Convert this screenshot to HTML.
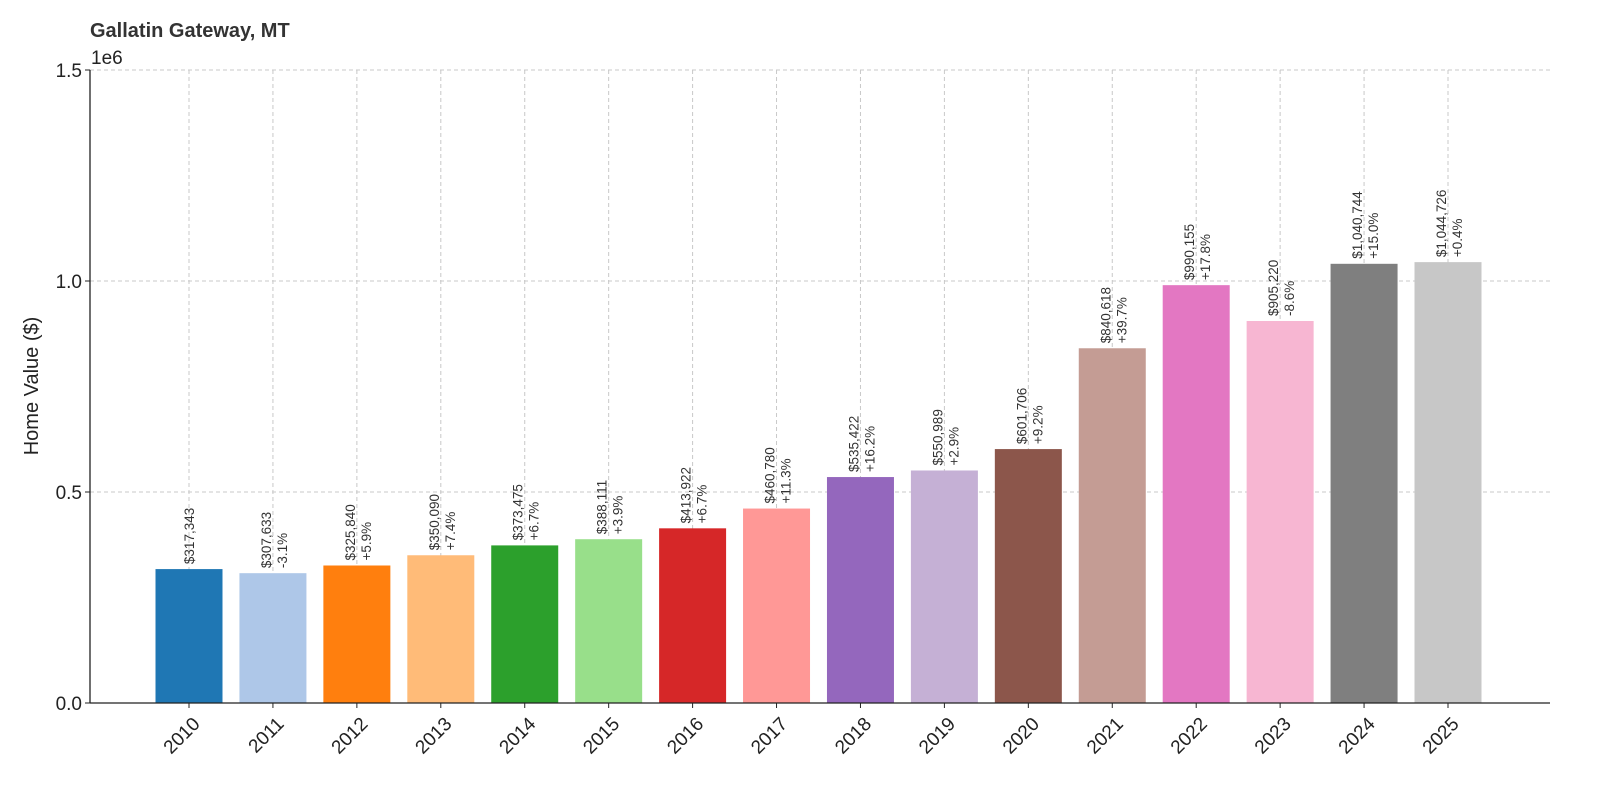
<!DOCTYPE html>
<html><head><meta charset="utf-8"><style>
body{margin:0;background:#fff;}
svg{display:block;font-family:"Liberation Sans","DejaVu Sans",sans-serif;}
</style></head><body>
<svg id="chart" width="1600" height="800" viewBox="0 0 1600 800" xmlns="http://www.w3.org/2000/svg">
<text x="90" y="37" font-size="20" font-weight="bold" fill="#333">Gallatin Gateway, MT</text>
<text x="91" y="64" font-size="19" fill="#222">1e6</text>
<text transform="translate(38,386) rotate(-90)" text-anchor="middle" font-size="20" fill="#222">Home Value ($)</text>
<g id="grid"></g><g id="bars"></g><g id="labels"></g><g id="axes"></g>
</svg>
<script>
const years=["2010","2011","2012","2013","2014","2015","2016","2017","2018","2019","2020","2021","2022","2023","2024","2025"];
const values=[317343,307633,325840,350090,373475,388111,413922,460780,535422,550989,601706,840618,990155,905220,1040744,1044726];
const pctLabels=["","-3.1%","+5.9%","+7.4%","+6.7%","+3.9%","+6.7%","+11.3%","+16.2%","+2.9%","+9.2%","+39.7%","+17.8%","-8.6%","+15.0%","+0.4%"];
const yTicks=[0,0.5,1.0,1.5];
const yTickLabels=["0.0","0.5","1.0","1.5"];
const colors=["#1f77b4","#aec7e8","#ff7f0e","#ffbb78","#2ca02c","#98df8a","#d62728","#ff9896","#9467bd","#c5b0d5","#8c564b","#c49c94","#e377c2","#f7b6d2","#7f7f7f","#c7c7c7"];
const NS="http://www.w3.org/2000/svg";
const L=90,R=1550,T=70,B=703,yMax=1.5e6;
const xs=i=>189+i*(1448-189)/15;
const ys=v=>B-v/yMax*(B-T);
const bw=67;
function mk(tag,attrs,parent,text){const e=document.createElementNS(NS,tag);for(const k in attrs)e.setAttribute(k,attrs[k]);if(text!==undefined)e.textContent=text;parent.appendChild(e);return e;}
const grid=document.getElementById('grid'),bars=document.getElementById('bars'),labels=document.getElementById('labels'),axes=document.getElementById('axes');
yTicks.forEach((t,i)=>{
  const y=ys(t*1e6);
  const g=mk('line',{x1:L,x2:R,y1:y,y2:y,stroke:'#c8c8c8','stroke-dasharray':'4,3','stroke-width':1},grid);
  
  
  const tk=mk('line',{x1:L-5,x2:L,y1:y,y2:y,stroke:'#222'},axes);
  
  
  const tl=mk('text',{x:L-8,y:y+7,'text-anchor':'end','font-size':19,fill:'#222'},axes,yTickLabels[i]);
  
  
});
years.forEach((yr,i)=>{
  const cx=xs(i);
  const g=mk('line',{x1:cx,x2:cx,y1:T,y2:B,stroke:'#c8c8c8','stroke-dasharray':'4,3','stroke-width':1},grid);
  
  
  const top=ys(values[i]);
  const r=mk('rect',{x:cx-bw/2,y:top,width:bw,height:B-top,fill:colors[i]},bars);
  
  
  const vs='$'+values[i].toLocaleString('en-US');
  const hasPct=pctLabels[i]!=="";
  const t1=mk('text',{transform:`translate(${hasPct?cx-2:cx+5},${top-5}) rotate(-90)`,'font-size':13.5,fill:'#333'},labels,vs);
  
  
  if(hasPct){
    const t2=mk('text',{transform:`translate(${cx+14},${top-5}) rotate(-90)`,'font-size':13.5,fill:'#333'},labels,pctLabels[i]);
    
    
  }
  const tk=mk('line',{x1:cx,x2:cx,y1:B,y2:B+5,stroke:'#222'},axes);
  
  
  const xl=mk('text',{transform:`translate(${cx+12},${B+22}) rotate(-45)`,'text-anchor':'end','font-size':19,fill:'#222'},axes,yr);
  
  
});
const ax1=mk('line',{x1:L,x2:L,y1:T,y2:B,stroke:'#222','stroke-width':1.3},axes);


const ax2=mk('line',{x1:L,x2:R,y1:B,y2:B,stroke:'#222','stroke-width':1.3},axes);


</script>
</body></html>
